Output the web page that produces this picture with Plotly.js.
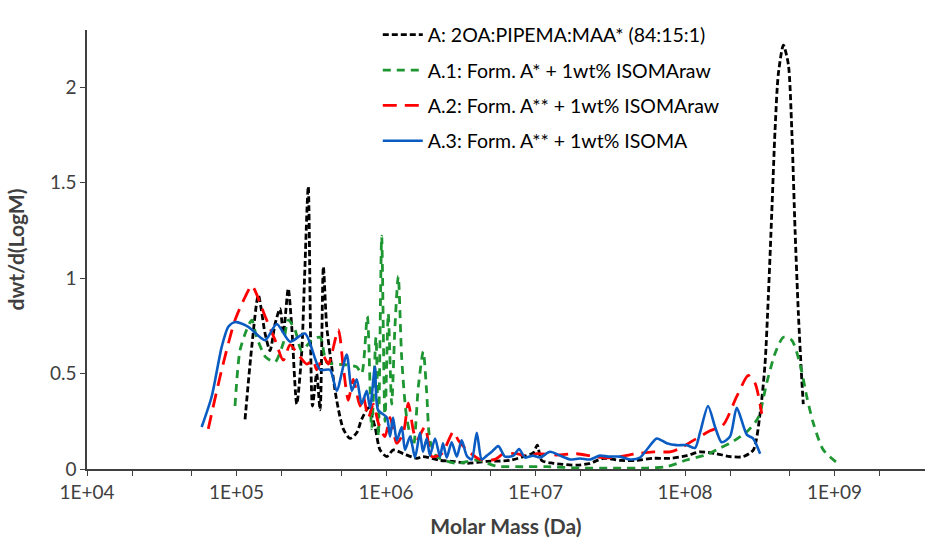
<!DOCTYPE html>
<html>
<head>
<meta charset="utf-8">
<script src="https://cdn.plot.ly/plotly-3.0.1.min.js"></script>
<style>html,body{margin:0;padding:0;background:#fff;}#chart{width:925px;height:538px;}</style>
</head>
<body>
<div id="chart"></div>
<script>
// Series names
const seriesNames = [
  'A: 2OA:PIPEMA:MAA* (84:15:1)',
  'A.1: Form. A* + 1wt% ISOMAraw',
  'A.2: Form. A** + 1wt% ISOMAraw',
  'A.3: Form. A** + 1wt% ISOMA'
];

// X tick labels
const tickMass = [1e4, 1e5, 1e6, 1e7, 1e8, 1e9];
const tickLabels = ['1E+04', '1E+05', '1E+06', '1E+07', '1E+08', '1E+09'];

// A: log10(Molar mass) and dwt/d(LogM)
const logM_A = [5.057,5.102,5.146,5.191,5.224,5.258,5.291,5.313,5.346,5.369,5.403,5.436,5.455,5.480,5.508,5.536,5.559,5.581,5.603,5.637,5.670,5.714,5.759,5.804,5.837,5.882,5.926,5.960,6.005,6.049,6.116,6.205,6.247,6.361,6.448,6.540,6.674,6.829,6.918,6.985,7.012,7.041,7.119,7.276,7.365,7.454,7.565,7.677,7.788,7.900,8.011,8.100,8.212,8.301,8.390,8.457,8.502,8.535,8.557,8.580,8.602,8.624,8.658,8.691,8.714,8.736,8.758,8.781,8.791];
const val_A  = [0.26,0.64,0.91,0.71,0.62,0.76,0.84,0.71,0.945,0.75,0.34,0.61,1.0,1.48,0.33,0.50,0.31,1.06,0.75,0.535,0.36,0.21,0.16,0.19,0.26,0.32,0.22,0.10,0.065,0.10,0.08,0.056,0.065,0.045,0.04,0.03,0.04,0.045,0.065,0.085,0.125,0.045,0.03,0.02,0.03,0.056,0.045,0.045,0.056,0.056,0.07,0.09,0.08,0.065,0.065,0.10,0.29,0.55,0.90,1.34,1.775,2.07,2.22,2.12,1.775,1.25,0.815,0.466,0.34];

// A.1
const logM_A1 = [4.990,5.023,5.068,5.102,5.135,5.191,5.224,5.258,5.313,5.346,5.391,5.436,5.503,5.559,5.603,5.670,5.737,5.804,5.837,5.875,5.904,5.933,5.949,5.971,5.993,6.015,6.038,6.060,6.082,6.105,6.138,6.183,6.216,6.249,6.272,6.294,6.339,6.473,6.607,6.740,6.874,7.075,7.298,7.518,7.744,7.878,8.011,8.145,8.234,8.301,8.413,8.490,8.546,8.602,8.658,8.714,8.769,8.814,8.858,8.925,9.037];
const val_A1  = [0.33,0.62,0.73,0.78,0.69,0.59,0.57,0.56,0.66,0.78,0.73,0.62,0.675,0.69,0.56,0.55,0.545,0.535,0.50,0.80,0.21,0.69,0.17,1.22,0.25,0.815,0.34,0.75,1.01,0.58,0.27,0.12,0.43,0.615,0.40,0.15,0.065,0.03,0.047,0.015,0.012,0.012,0.005,0.005,0.005,0.012,0.047,0.075,0.11,0.135,0.195,0.27,0.45,0.605,0.69,0.675,0.55,0.38,0.24,0.10,0.02];

// A.2
const logM_A2 = [4.811,4.901,4.990,5.057,5.102,5.191,5.258,5.313,5.358,5.403,5.470,5.512,5.536,5.581,5.614,5.681,5.714,5.748,5.781,5.826,5.848,5.882,5.915,5.949,5.993,6.027,6.072,6.116,6.149,6.183,6.205,6.261,6.306,6.373,6.450,6.484,6.540,6.629,6.729,6.785,6.874,6.963,7.008,7.142,7.276,7.387,7.476,7.565,7.677,7.788,7.900,7.967,8.056,8.167,8.254,8.346,8.423,8.468,8.513];
const val_A2  = [0.21,0.52,0.78,0.90,0.96,0.80,0.675,0.57,0.65,0.61,0.55,0.57,0.52,0.59,0.55,0.73,0.535,0.36,0.47,0.33,0.38,0.27,0.34,0.24,0.17,0.27,0.135,0.19,0.345,0.20,0.15,0.22,0.065,0.08,0.195,0.15,0.10,0.05,0.05,0.08,0.08,0.065,0.08,0.073,0.08,0.065,0.058,0.065,0.08,0.09,0.09,0.108,0.15,0.20,0.23,0.38,0.49,0.45,0.29];

// A.3
const logM_A3 = [4.767,4.834,4.901,4.945,4.990,5.079,5.191,5.269,5.358,5.458,5.559,5.625,5.670,5.737,5.771,5.804,5.837,5.871,5.893,5.926,5.946,6.005,6.027,6.047,6.072,6.105,6.127,6.161,6.194,6.227,6.247,6.272,6.294,6.328,6.361,6.381,6.406,6.439,6.473,6.506,6.540,6.573,6.607,6.640,6.674,6.707,6.751,6.796,6.852,6.890,6.930,6.983,7.030,7.097,7.164,7.231,7.298,7.365,7.431,7.485,7.565,7.632,7.699,7.753,7.811,7.878,7.944,8.011,8.067,8.100,8.154,8.201,8.245,8.301,8.346,8.413,8.455,8.502];
const val_A3  = [0.22,0.38,0.64,0.745,0.77,0.745,0.675,0.76,0.667,0.71,0.52,0.52,0.41,0.60,0.41,0.47,0.34,0.41,0.32,0.535,0.31,0.27,0.17,0.27,0.15,0.22,0.10,0.17,0.06,0.19,0.09,0.16,0.07,0.16,0.065,0.135,0.06,0.14,0.065,0.15,0.07,0.05,0.19,0.05,0.07,0.09,0.12,0.065,0.07,0.105,0.06,0.07,0.06,0.09,0.07,0.05,0.055,0.05,0.07,0.065,0.065,0.05,0.06,0.11,0.16,0.135,0.125,0.125,0.11,0.19,0.33,0.22,0.14,0.17,0.32,0.18,0.16,0.08];

const toMass = arr => arr.map(v => Math.pow(10, v));
const FONT = 'Lato, "Open Sans", sans-serif';

const styles = [
  {color: '#000000', dash: '6px,3px', width: 2.8},
  {color: '#1E9632', dash: '8px,6px', width: 2.8},
  {color: '#FF0000', dash: '14px,8px', width: 2.8},
  {color: '#0A5CC2', dash: 'solid', width: 2.6}
];
const xs = [logM_A, logM_A1, logM_A2, logM_A3];
const ys = [val_A, val_A1, val_A2, val_A3];

const traces = seriesNames.map((name, i) => ({
  type: 'scatter',
  mode: 'lines',
  name: name,
  legendgroup: 'g' + i,
  x: toMass(xs[i]),
  y: ys[i],
  line: {color: styles[i].color, dash: styles[i].dash, width: styles[i].width, shape: 'spline', smoothing: 0.7}
}));

const layout = {
  width: 925, height: 538,
  margin: {l: 87, r: 0, t: 30, b: 69},
  paper_bgcolor: '#ffffff', plot_bgcolor: '#ffffff',
  font: {family: FONT, size: 19, color: '#404040'},
  showlegend: true,
  legend: {
    x: 0.347, y: 1.033, xanchor: 'left', yanchor: 'top',
    bgcolor: 'rgba(0,0,0,0)', traceorder: 'grouped', tracegroupgap: 7,
    itemwidth: 40,
    font: {family: FONT, size: 19.5, color: '#000000'}
  },
  xaxis: {
    type: 'log', range: [4, 9.605],
    tickvals: tickMass, ticktext: tickLabels,
    ticks: 'outside', ticklen: 5, tickwidth: 1, tickcolor: '#404040',
    showline: true, linecolor: '#404040', linewidth: 1.5,
    showgrid: false, zeroline: false,
    minor: {ticks: 'outside', ticklen: 5, tickwidth: 1, tickcolor: '#404040', showgrid: false},
    tickfont: {family: FONT, size: 19, color: '#404040'},
    title: {text: '<b>Molar Mass (Da)</b>', font: {family: FONT, size: 21, color: '#404040'}, standoff: 19}
  },
  yaxis: {
    range: [0, 2.3], tickvals: [0, 0.5, 1, 1.5, 2], ticktext: ['0', '0.5', '1', '1.5', '2'],
    ticks: 'outside', ticklen: 5, tickwidth: 1, tickcolor: '#404040',
    showline: true, linecolor: '#404040', linewidth: 1.5,
    showgrid: false, zeroline: false,
    tickfont: {family: FONT, size: 19, color: '#404040'},
    title: {text: '<b>dwt/d(LogM)</b>', font: {family: FONT, size: 21, color: '#404040'}, standoff: 20}
  }
};

Plotly.newPlot('chart', traces, layout, {displayModeBar: false, responsive: false});
</script>
</body>
</html>
